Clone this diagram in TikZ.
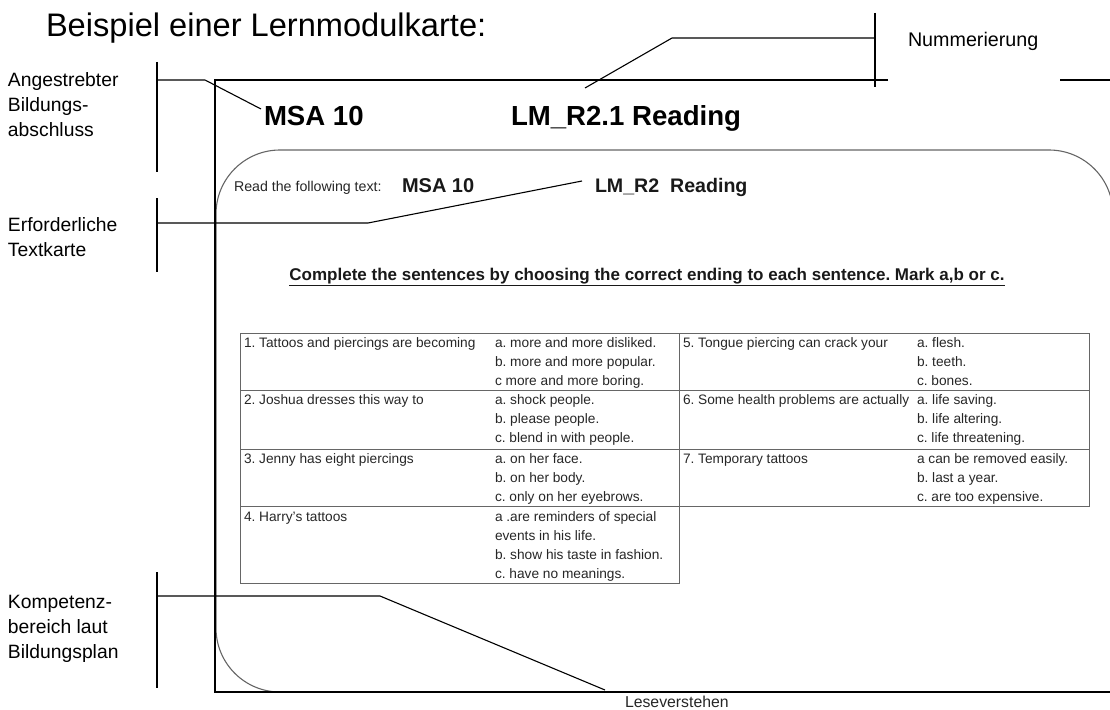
\documentclass[tikz,border=0pt]{standalone}
\usepackage{fontspec}
\setmainfont{Liberation Sans}
\frenchspacing
\begin{document}
\begin{tikzpicture}[x=1pt,y=-1pt,
  every node/.style={inner sep=0pt,outer sep=0pt},
  lab/.style={anchor=north west,align=left,font=\fontsize{19.3}{25}\selectfont},
  cell/.style={anchor=north west,align=left,font=\fontsize{13.7}{19}\selectfont,text=black!85},
  leader/.style={line width=1.1pt,black},
  outerbox/.style={line width=2.4pt,black},
  innerbox/.style={line width=1.1pt,black!60,rounded corners=64pt},
  grid/.style={line width=1pt,black!60}]
\useasboundingbox (0,0) rectangle (1110,709);
\clip (0,0) rectangle (1110,709);

% title
\node[anchor=base west,font=\fontsize{32.6}{38}\selectfont] (title) at (46,37) {Beispiel einer Lernmodulkarte:};

% card frames
\draw[innerbox] (1113,720) -- (1113,150) -- (216,150) -- (216,692) -- (1150,692);
\draw[outerbox] (888,80) -- (215,80) -- (215,692) -- (1115,692);
\draw[outerbox] (1060,80) -- (1115,80);

% card header
\node[anchor=base west,font=\bfseries\fontsize{27.6}{32}\selectfont] (msa) at (264,125) {MSA 10};
\node[anchor=base west,font=\bfseries\fontsize{27.6}{32}\selectfont] (lm) at (511,125) {LM\_R2.1 Reading};

\node[anchor=base west,font=\fontsize{14.2}{16}\selectfont,text=black!85] (read) at (234,191) {Read the following text:};
\node[anchor=base west,font=\bfseries\fontsize{20}{22}\selectfont,text=black!90] (msas) at (402,192) {MSA 10};
\node[anchor=base west,font=\bfseries\fontsize{19.6}{22}\selectfont,text=black!90] (lms) at (595,192) {LM\_R2\ \ Reading};

\node[anchor=base,font=\bfseries\fontsize{17}{20}\selectfont,text=black!90] (task) at (647,280)
  {\underline{Complete the sentences by choosing the correct ending to each sentence. Mark a,b or c.}};

% table
\draw[grid] (240,333) rectangle (679,583);
\draw[grid] (679,333) rectangle (1089,506);
\draw[grid] (240,390) -- (1089,390);
\draw[grid] (240,449) -- (1089,449);
\draw[grid] (240,506) -- (1089,506);

\node[cell] (q1) at (244,338) {1. Tattoos and piercings are becoming};
\node[cell] (a1) at (495,338) {a. more and more disliked.\\b. more and more popular.\\c more and more boring.};
\node[cell] (q2) at (244,395) {2. Joshua dresses this way to};
\node[cell] (a2) at (495,395) {a. shock people.\\b. please people.\\c. blend in with people.};
\node[cell] (q3) at (244,454) {3. Jenny has eight piercings};
\node[cell] (a3) at (495,454) {a. on her face.\\b. on her body.\\c. only on her eyebrows.};
\node[cell] (q4) at (244,512) {4. Harry's tattoos};
\node[cell] (a4) at (495,512) {a .are reminders of special\\events in his life.\\b. show his taste in fashion.\\c. have no meanings.};
\node[cell] (q5) at (683,338) {5. Tongue piercing can crack your};
\node[cell] (a5) at (917,338) {a. flesh.\\b. teeth.\\c. bones.};
\node[cell] (q6) at (683,395) {6. Some health problems are actually};
\node[cell] (a6) at (917,395) {a. life saving.\\b. life altering.\\c. life threatening.};
\node[cell] (q7) at (683,454) {7. Temporary tattoos};
\node[cell] (a7) at (917,454) {a can be removed easily.\\b. last a year.\\c. are too expensive.};

\node[anchor=base west,font=\fontsize{15.8}{18}\selectfont,text=black!85] (lese) at (625,707) {Leseverstehen};

% side labels
\node[lab] (labA) at (8,73) {Angestrebter\\Bildungs-\\abschluss};
\node[lab] (labE) at (8,218) {Erforderliche\\Textkarte};
\node[lab] (labK) at (8,595) {Kompetenz-\\bereich laut\\Bildungsplan};
\node[anchor=base west,font=\fontsize{19.7}{22}\selectfont] (labN) at (908,47) {Nummerierung};

% leaders
\coordinate (A1) at (157,62); \coordinate (A2) at (157,172);
\coordinate (A3) at (157,80); \coordinate (A4) at (205,80); \coordinate (A5) at (261,109);
\draw[leader] (A1) -- (A2);
\draw[leader] (A3) -- (A4) -- (A5);

\coordinate (E1) at (157,198); \coordinate (E2) at (157,272);
\coordinate (E3) at (157,223); \coordinate (E4) at (368,223); \coordinate (E5) at (582,181);
\draw[leader] (E1) -- (E2);
\draw[leader] (E3) -- (E4) -- (E5);

\coordinate (K1) at (157,572); \coordinate (K2) at (157,688);
\coordinate (K3) at (157,596); \coordinate (K4) at (380,596); \coordinate (K5) at (605,690);
\draw[leader] (K1) -- (K2);
\draw[leader] (K3) -- (K4) -- (K5);

\coordinate (N1) at (875,13); \coordinate (N2) at (875,87);
\coordinate (N3) at (875,38); \coordinate (N4) at (672,38); \coordinate (N5) at (585,88);
\draw[leader] (N1) -- (N2);
\draw[leader] (N3) -- (N4) -- (N5);
\end{tikzpicture}
\end{document}
